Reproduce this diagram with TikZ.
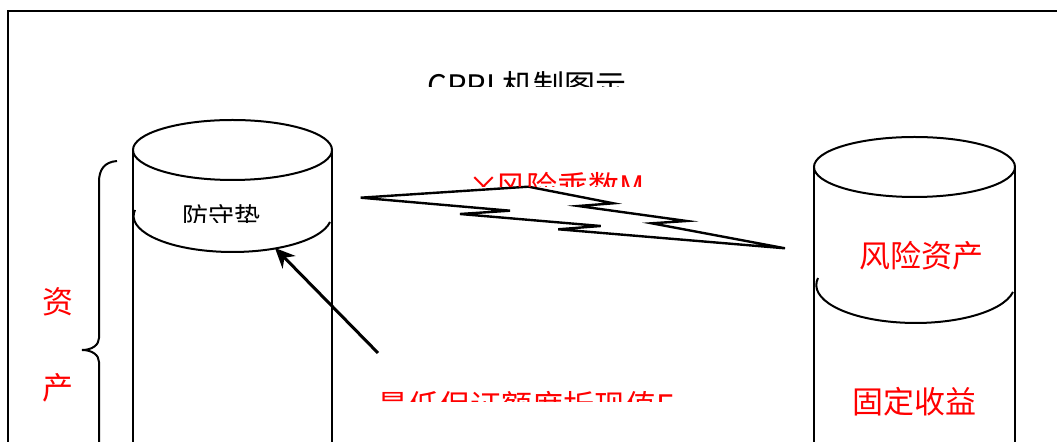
\documentclass[tikz,border=0pt]{standalone}
\usepackage{fontspec}
\setmainfont{Noto Sans CJK SC}
\usetikzlibrary{arrows.meta}

\tikzset{
  redText/.style={text=red, inner sep=0pt, anchor=base west, font=\fontsize{15.5}{18}\selectfont},
  blackText/.style={text=black, inner sep=0pt, anchor=base west, font=\fontsize{15.5}{18}\selectfont},
  cylLine/.style={draw=black, line width=1pt},
}

\begin{document}
\begin{tikzpicture}[x=0.5pt, y=-0.5pt]

\clip (0,0) rectangle (1057,442);

% frame
\draw[cylLine] (8,470) -- (8,11) -- (1080,11);

% title, cut off at the bottom
\begin{scope}
\clip (400,60) rectangle (700,87);
\node (titleText) [blackText] at (427,98) {CPPI 机制图示};
\end{scope}

% brace and label
\draw[cylLine] (117,161) .. controls (104,162) and (99,170) .. (99,182) -- (99,338) .. controls (99,345) and (92,350) .. (82,350) .. controls (92,350) and (99,355) .. (99,362) -- (99,518) .. controls (99,530) and (104,538) .. (117,539);
\node (assetTop) [redText] at (42,314) {资};
\node (assetBottom) [redText] at (42,400) {产};

% left cylinder
\coordinate (leftTop) at (232.5,150);
\draw[cylLine] (leftTop) ellipse [x radius=99.5, y radius=30];
\draw[cylLine] (133,150) -- (133,470);
\draw[cylLine] (332,150) -- (332,470);
\draw[cylLine] (135,210) arc [start angle=189.6, end angle=9.6, x radius=98.9, y radius=36];
\begin{scope}
\clip (170,195) rectangle (300,223);
\node (cushionText) [blackText, font=\fontsize{13}{15}\selectfont] at (182,227) {防守垫};
\end{scope}

% right cylinder
\coordinate (rightTop) at (914.5,167);
\draw[cylLine] (rightTop) ellipse [x radius=100.5, y radius=30];
\draw[cylLine] (814,167) -- (814,470);
\draw[cylLine] (1015,167) -- (1015,470);
\draw[cylLine] (818,278) arc [start angle=190.6, end angle=10.6, x radius=99.2, y radius=38];
\node (riskText) [redText] at (859,268) {风险资产};
\node (fixedText) [redText] at (852,414) {固定收益};

% lightning between the cylinders
\draw[line width=1.2pt, line join=miter] (360.7,197.7) -- (528.3,186.7) -- (613.3,203.3) -- (578.3,206) -- (686.7,221) -- (651.7,223.3) -- (785,248.3) -- (558.3,229.3) -- (600.7,226) -- (460,214) -- (510,210.7) -- cycle;
\begin{scope}
\clip (460,160) rectangle (700,187);
\node (multText) [redText] at (468,199) {×\hspace{-2pt}风险乘数M};
\end{scope}

% floor and arrow
\begin{scope}
\clip (360,380) rectangle (720,402);
\node (floorText) [redText] at (377,418) {最低保证额度折现值F};
\end{scope}
\coordinate (arrowTail) at (378,353);
\coordinate (cushionEdge) at (275,248);
\draw[-{Stealth[length=10pt,width=9pt]}, line width=1.5pt] (arrowTail) -- (cushionEdge);

\end{tikzpicture}
\end{document}
